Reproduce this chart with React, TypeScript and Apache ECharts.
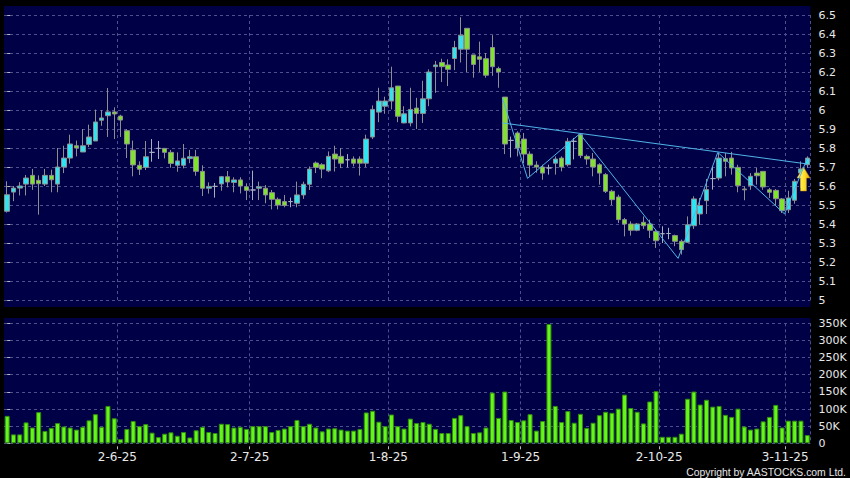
import React, { useEffect, useRef } from 'react';
import * as echarts from 'echarts';

// Daily OHLC (price in HKD)
const opens = [
  5.467, 5.568, 5.589, 5.61, 5.656, 5.63, 5.61, 5.656, 5.61, 5.70,
  5.747, 5.812, 5.779, 5.819, 5.837, 5.946, 5.97, 5.99, 5.968, 5.891,
  5.789, 5.709, 5.698, 5.777, 5.798, 5.798, 5.777, 5.709, 5.709, 5.744,
  5.754, 5.677, 5.588, 5.598, 5.611, 5.649, 5.619, 5.632, 5.596, 5.579,
  5.588, 5.588, 5.565, 5.53, 5.518, 5.518, 5.509, 5.553, 5.609, 5.721,
  5.712, 5.68, 5.768, 5.756, 5.738, 5.742, 5.742, 5.72, 5.858, 5.989,
  6.02, 6.047, 6.126, 5.932, 5.932, 6.01, 5.982, 6.059, 6.228, 6.25,
  6.237, 6.271, 6.32, 6.43, 6.29, 6.28, 6.27, 6.329, 6.218, 6.068,
  5.84, 5.879, 5.847, 5.768, 5.71, 5.70, 5.695, 5.72, 5.747, 5.712,
  5.835, 5.87, 5.756, 5.742, 5.712, 5.66, 5.572, 5.542, 5.423, 5.40,
  5.367, 5.409, 5.40, 5.361, 5.349, 5.35, 5.339, 5.309, 5.304, 5.391,
  5.453, 5.523, 5.639, 5.642, 5.744, 5.747, 5.698, 5.584, 5.602, 5.668,
  5.677, 5.58, 5.577, 5.532, 5.475, 5.525, 5.668, 5.712,
];
const closes = [
  5.554, 5.589, 5.60, 5.642, 5.61, 5.612, 5.656, 5.633, 5.70, 5.747,
  5.821, 5.80, 5.812, 5.858, 5.937, 5.958, 5.99, 5.979, 5.947, 5.821,
  5.711, 5.688, 5.754, 5.777, 5.798, 5.777, 5.719, 5.732, 5.746, 5.754,
  5.677, 5.588, 5.598, 5.598, 5.649, 5.621, 5.632, 5.60, 5.577, 5.579,
  5.596, 5.553, 5.53, 5.50, 5.498, 5.518, 5.553, 5.609, 5.689, 5.698,
  5.689, 5.756, 5.742, 5.72, 5.738, 5.72, 5.72, 5.847, 6.003, 6.047,
  6.047, 6.117, 5.967, 5.98, 6.003, 5.982, 6.059, 6.20, 6.237, 6.228,
  6.214, 6.329, 6.394, 6.32, 6.24, 6.267, 6.183, 6.228, 6.20, 5.821,
  5.84, 5.80, 5.768, 5.71, 5.70, 5.668, 5.695, 5.742, 5.70, 5.835,
  5.835, 5.76, 5.742, 5.70, 5.668, 5.572, 5.528, 5.423, 5.40, 5.367,
  5.40, 5.391, 5.367, 5.312, 5.349, 5.35, 5.309, 5.265, 5.396, 5.532,
  5.497, 5.581, 5.639, 5.747, 5.73, 5.695, 5.602, 5.58, 5.651, 5.654,
  5.595, 5.567, 5.533, 5.47, 5.537, 5.625, 5.69, 5.747,
];
const lows = [
  5.46, 5.52, 5.55, 5.55, 5.58, 5.449, 5.60, 5.567, 5.567, 5.668,
  5.718, 5.756, 5.779, 5.805, 5.837, 5.917, 5.858, 5.847, 5.858, 5.747,
  5.651, 5.658, 5.684, 5.728, 5.742, 5.745, 5.696, 5.675, 5.693, 5.72,
  5.654, 5.547, 5.56, 5.539, 5.575, 5.593, 5.567, 5.561, 5.526, 5.526,
  5.526, 5.509, 5.477, 5.477, 5.488, 5.488, 5.488, 5.532, 5.579, 5.668,
  5.641, 5.673, 5.676, 5.694, 5.698, 5.703, 5.655, 5.70, 5.847, 5.936,
  5.98, 6.003, 5.936, 5.93, 5.914, 5.90, 5.932, 6.02, 6.09, 6.147,
  6.126, 6.21, 6.25, 6.20, 6.17, 6.20, 6.17, 6.18, 6.117, 5.768,
  5.75, 5.756, 5.72, 5.65, 5.67, 5.633, 5.66, 5.66, 5.677, 5.703,
  5.74, 5.747, 5.712, 5.651, 5.607, 5.563, 5.50, 5.405, 5.335, 5.339,
  5.362, 5.374, 5.326, 5.274, 5.30, 5.32, 5.283, 5.239, 5.30, 5.374,
  5.396, 5.453, 5.581, 5.63, 5.651, 5.66, 5.567, 5.525, 5.58, 5.607,
  5.58, 5.537, 5.50, 5.458, 5.458, 5.507, 5.59, 5.695,
];
const highs = [
  5.625, 5.60, 5.62, 5.658, 5.69, 5.656, 5.69, 5.686, 5.80, 5.812,
  5.87, 5.839, 5.90, 5.923, 6.002, 6.00, 6.116, 6.014, 5.975, 5.90,
  5.839, 5.73, 5.837, 5.847, 5.837, 5.80, 5.79, 5.777, 5.821, 5.79,
  5.79, 5.709, 5.619, 5.616, 5.653, 5.679, 5.646, 5.646, 5.614, 5.681,
  5.623, 5.605, 5.579, 5.539, 5.553, 5.539, 5.623, 5.623, 5.703, 5.729,
  5.72, 5.782, 5.812, 5.80, 5.768, 5.756, 5.756, 5.87, 6.024, 6.117,
  6.07, 6.228, 6.126, 6.02, 6.117, 6.064, 6.154, 6.214, 6.258, 6.27,
  6.267, 6.364, 6.488, 6.43, 6.29, 6.36, 6.30, 6.394, 6.228, 6.068,
  5.86, 5.888, 5.879, 5.782, 5.73, 5.712, 5.712, 5.756, 5.756, 5.853,
  5.853, 5.875, 5.765, 5.774, 5.72, 5.668, 5.58, 5.554, 5.432, 5.414,
  5.405, 5.44, 5.423, 5.37, 5.388, 5.38, 5.344, 5.318, 5.44, 5.546,
  5.537, 5.637, 5.704, 5.774, 5.774, 5.78, 5.712, 5.598, 5.668, 5.695,
  5.677, 5.59, 5.584, 5.537, 5.575, 5.637, 5.73, 5.756,
];
// Daily volume, thousands of shares
const volumesK = [
  80, 26, 26, 61, 46, 91, 36, 45, 59, 49,
  46, 40, 48, 67, 85, 48, 109, 73, 12, 42,
  65, 50, 56, 31, 18, 28, 32, 22, 33, 17,
  38, 48, 33, 30, 57, 56, 46, 48, 42, 50,
  50, 50, 33, 39, 43, 50, 68, 50, 57, 46,
  35, 43, 44, 40, 37, 37, 42, 90, 95, 63,
  50, 84, 50, 43, 72, 59, 62, 57, 42, 30,
  30, 74, 82, 50, 30, 32, 46, 148, 74, 151,
  68, 62, 67, 85, 37, 65, 348, 109, 62, 94,
  60, 86, 45, 60, 82, 92, 89, 101, 142, 103,
  92, 58, 122, 152, 19, 19, 19, 28, 130, 151,
  113, 127, 107, 109, 83, 77, 101, 49, 40, 43,
  64, 77, 112, 46, 66, 66, 66, 24,
];
// Month-start date labels and the trading-day index they belong to
const dateLabels = ['2-6-25', '2-7-25', '1-8-25', '1-9-25', '2-10-25', '3-11-25'];
const dateLabelIndex = [17, 38, 60, 81, 103, 123];
// Hand-drawn pattern lines: [day index, price]
const zigzagLine = [[78.6, 6.065], [82.6, 5.64], [90.9, 5.875], [106.5, 5.219], [112.8, 5.777], [123.4, 5.453], [127, 5.745]];
const resistanceLine = [[78.6, 5.932], [127, 5.716]];
const arrowPoint = [126.4, 5.637];

const PLOT_LEFT = 4;
const PLOT_W = 806.4;
const NAVY = '#000046';
const GRID_LINE = { color: '#4e4f8e', type: [3, 3] as any, width: 1 };
const LABEL_FONT = 'DejaVu Sans';

export default function App() {
  const ref = useRef<HTMLDivElement>(null);
  useEffect(() => {
    document.body.style.margin = '0';
    document.body.style.background = '#000';
    if (!ref.current) return;
    const chart = echarts.init(ref.current, null, { renderer: 'svg' });
    const n = opens.length;
    const cats = opens.map((_, i) => String(i));
    const candleData = opens.map((o, i) => [o, closes[i], lows[i], highs[i]]);
    const splitIdx = dateLabelIndex.map((i) => i + 1);
    const labelVals = dateLabelIndex.map((i) => i + 0.5);
    const right = 850 - PLOT_LEFT - PLOT_W;

    const catAxis = (gridIndex: number) => ({
      type: 'category',
      gridIndex,
      data: cats,
      boundaryGap: true,
      axisLine: { show: false },
      axisTick: { show: false },
      axisLabel: { show: false },
      splitLine: {
        show: true,
        interval: (idx: number) => splitIdx.indexOf(idx) >= 0,
        lineStyle: GRID_LINE,
      },
    });

    chart.setOption({
      animation: false,
      backgroundColor: '#000',
      graphic: {
        elements: [
          { type: 'rect', z: -10, silent: true, shape: { x: PLOT_LEFT, y: 6, width: PLOT_W, height: 301 }, style: { fill: NAVY } },
          { type: 'rect', z: -10, silent: true, shape: { x: PLOT_LEFT, y: 318, width: PLOT_W, height: 125.3 }, style: { fill: NAVY } },
          {
            type: 'text', x: 846, y: 472, silent: true,
            style: { text: 'Copyright by AASTOCKS.com Ltd.', fill: '#e6e6e6', fontSize: 10.4, fontFamily: 'Liberation Sans', align: 'right', verticalAlign: 'middle' },
          },
        ],
      },
      grid: [
        { left: PLOT_LEFT, right, top: 15, height: 285 },
        { left: PLOT_LEFT, right, top: 323.3, height: 120 },
      ],
      xAxis: [
        catAxis(0),
        catAxis(1),
        { type: 'value', gridIndex: 0, min: -0.5, max: n - 0.5, show: false },
        {
          type: 'value', gridIndex: 1, min: -0.5, max: n - 0.5, position: 'bottom', offset: 3,
          axisLine: { show: false },
          splitLine: { show: false },
          axisTick: { show: true, length: 3, customValues: labelVals, lineStyle: { color: '#bbbbbb' } },
          axisLabel: {
            show: true, customValues: labelVals, margin: 5,
            color: '#e8e8e8', fontSize: 12, fontFamily: LABEL_FONT,
            formatter: (v: number) => {
              const k = dateLabelIndex.indexOf(Math.round(v - 0.5));
              return k >= 0 ? dateLabels[k] : '';
            },
          },
        },
      ],
      yAxis: [
        {
          type: 'value', gridIndex: 0, position: 'right', min: 5, max: 6.5, interval: 0.1, offset: 4,
          axisLine: { show: false },
          axisTick: { show: true, length: 3, lineStyle: { color: '#bbbbbb' } },
          axisLabel: { color: '#e8e8e8', fontSize: 11, fontFamily: LABEL_FONT, margin: 4 },
          splitLine: { show: true, lineStyle: GRID_LINE },
        },
        {
          type: 'value', gridIndex: 1, position: 'right', min: 0, max: 350, interval: 50, offset: 4,
          axisLine: { show: false },
          axisTick: { show: true, length: 3, lineStyle: { color: '#bbbbbb' } },
          axisLabel: {
            color: '#e8e8e8', fontSize: 11, fontFamily: LABEL_FONT, margin: 4,
            formatter: (v: number) => (v === 0 ? '0' : v + 'K'),
          },
          splitLine: { show: true, lineStyle: GRID_LINE },
        },
      ],
      series: [
        {
          type: 'candlestick',
          xAxisIndex: 0, yAxisIndex: 0,
          data: candleData,
          barWidth: 5,
          itemStyle: {
            color: '#2fe4f0', color0: '#7fe22c',
            borderColor: '#8e8e8e', borderColor0: '#8e8e8e', borderColorDoji: '#a8b0c0',
            borderWidth: 1,
          },
        },
        {
          type: 'bar',
          xAxisIndex: 1, yAxisIndex: 1,
          data: volumesK,
          barWidth: 5,
          itemStyle: { color: '#66f51a', borderColor: '#2f8c0c', borderWidth: 1 },
        },
        {
          type: 'line',
          xAxisIndex: 2, yAxisIndex: 0,
          data: zigzagLine,
          symbol: 'none',
          lineStyle: { color: '#4fb4e8', width: 1 },
          z: 5,
        },
        {
          type: 'line',
          xAxisIndex: 2, yAxisIndex: 0,
          data: resistanceLine,
          symbol: 'none',
          lineStyle: { color: '#4fb4e8', width: 1 },
          z: 5,
          markPoint: {
            symbol: 'path://M6.5 0 L13 11 L9.5 11 L9.5 24 L3.5 24 L3.5 11 L0 11 Z',
            symbolSize: [13, 24],
            label: { show: false },
            itemStyle: {
              color: new echarts.graphic.LinearGradient(0, 0, 1, 0, [
                { offset: 0, color: '#fff68a' },
                { offset: 0.55, color: '#ffe030' },
                { offset: 1, color: '#e8a800' },
              ]),
              borderColor: '#c08a00', borderWidth: 0.5,
            },
            data: [{ coord: arrowPoint }],
          },
        },
      ],
    });
    return () => chart.dispose();
  }, []);
  return <div ref={ref} style={{ width: 850, height: 478, background: '#000' }} />;
}
